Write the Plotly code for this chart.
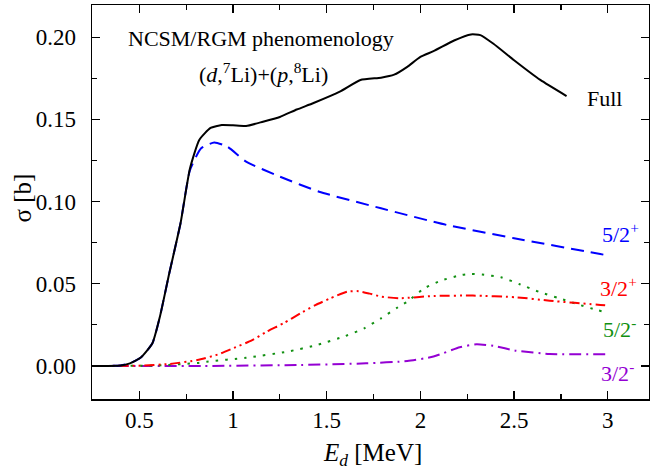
import plotly.graph_objects as go

# ---- data ----
e_full = [0.25, 0.40, 0.45, 0.51, 0.57, 0.61, 0.66, 0.72, 0.77, 0.82, 0.88, 0.94, 1.00, 1.07, 1.16, 1.25,
          1.34, 1.43, 1.57, 1.68, 1.79, 1.86, 1.93, 2.00, 2.07, 2.18, 2.27, 2.32, 2.39, 2.50, 2.64, 2.78]
sigma_full = [0.0, 0.0003, 0.0016, 0.0053, 0.0138, 0.030, 0.0564, 0.0868, 0.120, 0.1375, 0.1448, 0.1466,
              0.1464, 0.146, 0.1486, 0.1515, 0.156, 0.160, 0.1669, 0.174, 0.1754, 0.1772, 0.182, 0.188,
              0.1915, 0.198, 0.2017, 0.2013, 0.196, 0.186, 0.174, 0.1642]

e_52p = [0.25, 0.40, 0.45, 0.51, 0.57, 0.61, 0.66, 0.72, 0.77, 0.83, 0.90, 0.97, 1.07, 1.25, 1.46, 1.79,
         2.14, 2.50, 2.96, 3.00]
sigma_52p = [0.0, 0.0003, 0.0016, 0.0053, 0.0138, 0.030, 0.0564, 0.0868, 0.119, 0.1324, 0.136, 0.1334,
             0.1243, 0.1152, 0.106, 0.0959, 0.0858, 0.0777, 0.0681, 0.0672]

e_32p = [0.25, 0.50, 0.66, 0.81, 0.92, 1.00, 1.10, 1.18, 1.27, 1.36, 1.44, 1.52, 1.61, 1.67, 1.73, 1.79,
         1.89, 2.07, 2.28, 2.51, 2.69, 2.96, 3.00]
sigma_32p = [0.0, 0.0002, 0.0012, 0.0036, 0.0070, 0.0107, 0.0155, 0.0209, 0.026, 0.032, 0.037, 0.0412,
             0.0452, 0.0455, 0.044, 0.0422, 0.0412, 0.0426, 0.0428, 0.0418, 0.0397, 0.0371, 0.0368]

e_52m = [0.25, 0.60, 0.81, 0.86, 1.07, 1.29, 1.45, 1.60, 1.70, 1.79, 1.88, 1.93, 2.02, 2.11, 2.22, 2.27,
         2.33, 2.43, 2.53, 2.64, 2.74, 2.84, 2.94, 3.00]
sigma_52m = [0.0, 0.0003, 0.0018, 0.0026, 0.005, 0.0087, 0.0128, 0.0182, 0.0229, 0.029, 0.0357, 0.0391,
             0.0472, 0.0519, 0.0554, 0.056, 0.0556, 0.054, 0.0497, 0.0448, 0.0412, 0.0375, 0.0341, 0.0324]

e_32m = [0.25, 0.84, 1.36, 1.71, 1.93, 2.07, 2.21, 2.30, 2.39, 2.51, 2.69, 3.00]
sigma_32m = [0.0, 0.0, 0.0006, 0.0016, 0.003, 0.0057, 0.0114, 0.0132, 0.0122, 0.0093, 0.0073, 0.0071]

x_ticks = [0.5, 1, 1.5, 2, 2.5, 3]
x_tick_labels = ["0.5", "1", "1.5", "2", "2.5", "3"]
y_ticks = [0.00, 0.05, 0.10, 0.15, 0.20]
y_tick_labels = ["0.00", "0.05", "0.10", "0.15", "0.20"]

FONT = "Liberation Serif"

series = [
    (e_32m, sigma_32m, "#9400D3", "12px,5px,2px,5px"),
    (e_52m, sigma_52m, "#119011", "2.5px,7px"),
    (e_32p, sigma_32p, "#FF0000", "10px,4px,2px,4px,2px,4px"),
    (e_52p, sigma_52p, "#0000FF", "13px,7px"),
    (e_full, sigma_full, "#000000", "solid"),
]

fig = go.Figure()
for xs, ys, col, dash in series:
    fig.add_trace(go.Scatter(x=xs, y=ys, mode="lines",
                             line=dict(color=col, width=2, dash=dash, shape="spline", smoothing=0.5),
                             showlegend=False, hoverinfo="skip"))

axis_common = dict(showline=True, linecolor="black", linewidth=1.5, mirror="allticks",
                   ticks="inside", ticklen=8, tickwidth=1.2, tickcolor="black",
                   showgrid=False, zeroline=False, automargin=False,
                   tickfont=dict(family=FONT, size=23, color="black"))

fig.update_xaxes(range=[0.2476, 3.22], tickvals=x_ticks, ticktext=x_tick_labels,
                 minor=dict(dtick=0.25, tick0=0.25, ticks="inside", ticklen=5, tickwidth=1.2, tickcolor="black"),
                 ticklabelstandoff=0,
                 **axis_common)
fig.update_yaxes(range=[-0.0201, 0.2196], tickvals=y_ticks, ticktext=y_tick_labels,
                 minor=dict(dtick=0.025, tick0=0, ticks="inside", ticklen=5, tickwidth=1.2, tickcolor="black"),
                 ticklabelstandoff=10,
                 **axis_common)

ann_font = dict(family=FONT, size=22, color="black")
annotations = [
    dict(x=1.15, y=0.1995, text="NCSM/RGM phenomenology", font=ann_font),
    dict(x=1.165, y=0.1785, text="(<i>d</i>,<sup>7</sup>Li)+(<i>p</i>,<sup>8</sup>Li)", font=ann_font),
    dict(x=2.98, y=0.163, text="Full", font=dict(family=FONT, size=22, color="black")),
    dict(x=3.07, y=0.081, text="5/2<sup>+</sup>", font=dict(family=FONT, size=22, color="#0000FF")),
    dict(x=3.055, y=0.048, text="3/2<sup>+</sup>", font=dict(family=FONT, size=22, color="#FF0000")),
    dict(x=3.06, y=0.023, text="5/2<sup>-</sup>", font=dict(family=FONT, size=22, color="#119011")),
    dict(x=3.05, y=-0.0035, text="3/2<sup>-</sup>", font=dict(family=FONT, size=22, color="#9400D3")),
]
for a in annotations:
    fig.add_annotation(xref="x", yref="y", showarrow=False, xanchor="center", yanchor="middle", **a)

# axis titles
fig.add_annotation(xref="paper", yref="paper", x=0.503, y=-0.142, showarrow=False,
                   xanchor="center", yanchor="middle",
                   text="<i>E</i><sub><i>d</i></sub> [MeV]", font=dict(family=FONT, size=25, color="black"))
fig.add_annotation(xref="paper", yref="paper", x=-0.125, y=0.51, showarrow=False,
                   xanchor="center", yanchor="middle", textangle=-90,
                   text="σ [b]", font=dict(family=FONT, size=25, color="black"))

fig.update_layout(width=650, height=469, margin=dict(l=92, r=1, t=5, b=70),
                  plot_bgcolor="white", paper_bgcolor="white",
                  font=dict(family=FONT, color="black"))

fig.write_html("out.html", config={"displayModeBar": False, "staticPlot": True},
               post_script="document.body.style.margin='0px';document.body.style.overflow='hidden';")
